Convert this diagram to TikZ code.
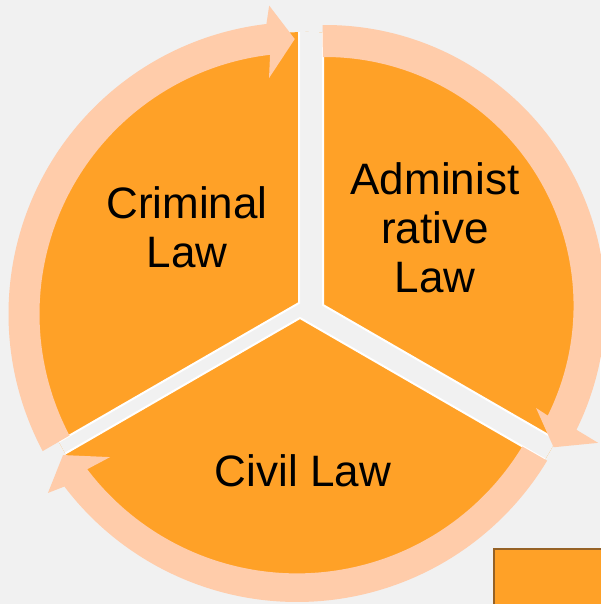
\documentclass[tikz,border=0pt]{standalone}
\usepackage{fontspec}
\setmainfont{Liberation Sans}
\usetikzlibrary{calc}
\begin{document}
\begin{tikzpicture}[x=1pt,y=1pt,
  lawLabel/.style={text=black,anchor=north,inner sep=0pt,outer sep=0pt,align=center,font=\fontsize{44}{49}\selectfont},
  ringArrow/.style={fill=ringColor},
  gapEdge/.style={draw=white,line width=2pt,line join=miter,fill=backColor}]
\definecolor{backColor}{RGB}{241,241,241}
\definecolor{pieColor}{RGB}{255,161,39}
\definecolor{ringColor}{RGB}{255,204,170}
\definecolor{boxLine}{RGB}{150,98,38}
\path[use as bounding box,fill=backColor] (0,0) rectangle (600,604);

% pie and the Y shaped gap
\coordinate (pieC) at (307,292);
\coordinate (crimCorner) at (299,301);
\coordinate (adminCorner) at (323,299);
\coordinate (civilCorner) at (300,286);
\path[fill=pieColor] (pieC) circle (280);
\begin{scope}
\path[clip] (pieC) circle (280);
\path[gapEdge] (299,620) -- (crimCorner) -- ($(crimCorner)+(210:400)$) --
	($(civilCorner)+(210:400)$) -- (civilCorner) -- ($(civilCorner)+(-30:400)$) --
	($(adminCorner)+(-30:400)$) -- (adminCorner) -- (323,620) -- cycle;
\end{scope}

% circular arrows
\begin{scope}[shift={(300.5,290)}]
\path[ringArrow] (208:292) arc[start angle=208,end angle=96.7,radius=292] --
	(95.8:310) -- (91.2:275) -- (97.6:238) --
	(96.7:261) arc[start angle=96.7,end angle=207.75,radius=261] -- cycle;
\end{scope}
\begin{scope}[shift={(325,298.5)}]
\path[ringArrow] (90.5:280.5) arc[start angle=90.5,end angle=-26.3,radius=280.5] --
	(-26.7:305.7) -- (-31.8:269) -- (-25.9:234.6) --
	(-26.3:248.5) arc[start angle=-26.3,end angle=90.5,radius=248.5] -- cycle;
\end{scope}
\begin{scope}[shift={(297,294)}]
\path[ringArrow] (-31.06:292) arc[start angle=-31.06,end angle=-142.8,radius=292] --
	(-143.7:309) -- (-148.2:275.3) -- (-141.8:237.9) --
	(-142.8:263.4) arc[start angle=-142.8,end angle=-31.2,radius=263.4] -- cycle;
\end{scope}

% labels
\node[lawLabel] (crimLabel) at (187,417) {Criminal\\Law};
\node[lawLabel] (adminLabel) at (435,441) {Administ\\rative\\Law};
\node[lawLabel] (civilLabel) at (303,149) {Civil Law};

% corner box
\path[draw=boxLine,line width=2pt,fill=pieColor] (494,55) rectangle (620,-20);
\end{tikzpicture}
\end{document}
